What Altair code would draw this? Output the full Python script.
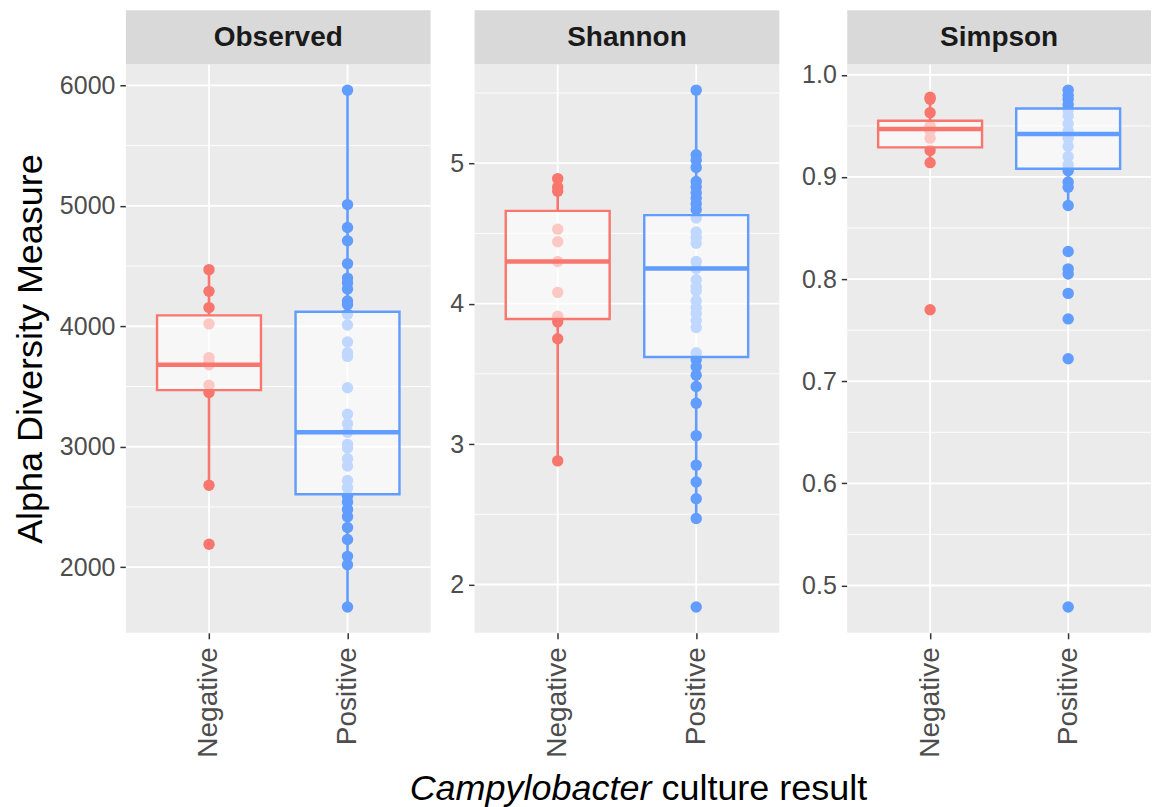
import altair as alt
import pandas as pd

groups = ["Negative", "Positive"]
colors = ["#F8766D", "#619CFF"]

# ---- Observed ----
obs_neg = [4470, 4290, 4155, 4020, 3740, 3700, 3680, 3510, 3450, 2680, 2190]
obs_pos = [5960, 5010, 4820, 4710, 4520, 4400, 4360, 4310, 4210, 4180, 4100, 4010,
           3870, 3780, 3750, 3490, 3270, 3190, 3120, 3020, 2990, 2900, 2840, 2720,
           2660, 2590, 2540, 2480, 2420, 2330, 2230, 2090, 2020, 1670]
obs_lo = [2680, 1670]
obs_q1 = [3470, 2605]
obs_med = [3680, 3120]
obs_q3 = [4090, 4120]
obs_hi = [4470, 5960]
obs_ticks = [2000, 3000, 4000, 5000, 6000]
obs_minor = [2500, 3500, 4500, 5500]

# ---- Shannon ----
sha_neg = [4.89, 4.83, 4.80, 4.53, 4.44, 4.30, 4.08, 3.91, 3.87, 3.75, 2.88]
sha_pos = [5.52, 5.06, 5.02, 4.97, 4.87, 4.83, 4.79, 4.75, 4.71, 4.67, 4.61, 4.51,
           4.47, 4.43, 4.30, 4.25, 4.17, 4.12, 4.09, 4.02, 3.97, 3.93, 3.88, 3.83,
           3.65, 3.60, 3.55, 3.49, 3.41, 3.29, 3.06, 2.85, 2.73, 2.61, 2.47, 1.84]
sha_lo = [2.88, 2.47]
sha_q1 = [3.89, 3.62]
sha_med = [4.30, 4.25]
sha_q3 = [4.66, 4.63]
sha_hi = [4.89, 5.52]
sha_ticks = [2, 3, 4, 5]
sha_minor = [2.5, 3.5, 4.5, 5.5]

# ---- Simpson ----
sim_neg = [0.978, 0.976, 0.963, 0.950, 0.945, 0.938, 0.926, 0.914, 0.770]
sim_pos = [0.985, 0.980, 0.976, 0.971, 0.966, 0.960, 0.952, 0.945, 0.938, 0.930,
           0.920, 0.912, 0.906, 0.895, 0.890, 0.872, 0.827, 0.810, 0.805, 0.786,
           0.761, 0.722, 0.479]
sim_lo = [0.914, 0.872]
sim_q1 = [0.929, 0.908]
sim_med = [0.947, 0.942]
sim_q3 = [0.955, 0.967]
sim_hi = [0.978, 0.985]
sim_ticks = [0.5, 0.6, 0.7, 0.8, 0.9, 1.0]
sim_minor = [0.55, 0.65, 0.75, 0.85, 0.95]

FONT = "Liberation Sans"
H = 569
STRIP = 54
BOXW = 104
PANEL_BG = "#EBEBEB"


def expand(vals):
    lo, hi = min(vals), max(vals)
    d = (hi - lo) * 0.05
    return [lo - d, hi + d]


def panel(name, pw, vw, neg, pos, lo, q1, med, q3, hi, ticks, minor, fmt,
          ytitle=None, xtitle=False):
    pts = pd.DataFrame({"group": ["Negative"] * len(neg) + ["Positive"] * len(pos),
                        "value": neg + pos})
    box = pd.DataFrame({"group": groups, "lo": lo, "q1": q1, "med": med,
                        "q3": q3, "hi": hi})
    yscale = alt.Scale(domain=expand(neg + pos), nice=False, zero=False)
    yaxis = alt.Axis(values=ticks, format=fmt, title=ytitle, grid=False)
    xscale = alt.Scale(type="point", padding=0.6, domain=groups, range=[0, pw])
    xenc = alt.X("group:N", scale=xscale, axis=alt.Axis(title=None, grid=False))
    color = alt.Color("group:N", scale=alt.Scale(domain=groups, range=colors), legend=None)

    one = pd.DataFrame({"name": [name]})
    bg = alt.Chart(one).mark_rect(color=PANEL_BG).encode(
        x=alt.value(0), x2=alt.value(pw), y=alt.value(0), y2=alt.value(H))

    minor_layer = alt.Chart(pd.DataFrame({"v": minor})).mark_rule(
        color="white", strokeWidth=0.9
    ).encode(y=alt.Y("v:Q", scale=yscale, axis=yaxis), x=alt.value(0), x2=alt.value(pw))
    major_layer = alt.Chart(pd.DataFrame({"v": ticks})).mark_rule(
        color="white", strokeWidth=1.8
    ).encode(y=alt.Y("v:Q", scale=yscale, axis=yaxis), x=alt.value(0), x2=alt.value(pw))
    xgrid = alt.Chart(pd.DataFrame({"group": groups})).mark_rule(
        color="white", strokeWidth=1.8
    ).encode(x=xenc, y=alt.value(0), y2=alt.value(H))

    points = alt.Chart(pts).mark_circle(size=130, opacity=1).encode(
        x=xenc, y=alt.Y("value:Q", scale=yscale, axis=yaxis), color=color)

    whisk_lo = alt.Chart(box).mark_rule(strokeWidth=2.6).encode(
        x=xenc, y=alt.Y("lo:Q", scale=yscale, axis=yaxis), y2="q1:Q", color=color)
    whisk_hi = alt.Chart(box).mark_rule(strokeWidth=2.6).encode(
        x=xenc, y=alt.Y("q3:Q", scale=yscale, axis=yaxis), y2="hi:Q", color=color)
    boxes = alt.Chart(box).mark_bar(size=BOXW, fill="white", fillOpacity=0.6,
                                    strokeWidth=2.4).encode(
        x=xenc, y=alt.Y("q1:Q", scale=yscale, axis=yaxis), y2="q3:Q", stroke=color)
    medians = alt.Chart(box).mark_tick(size=BOXW, thickness=4.5, opacity=1).encode(
        x=xenc, y=alt.Y("med:Q", scale=yscale, axis=yaxis), color=color)

    strip_rect = alt.Chart(one).mark_rect(color="#D9D9D9").encode(
        x=alt.value(0), x2=alt.value(pw), y=alt.value(-STRIP), y2=alt.value(0))
    strip_text = alt.Chart(one).mark_text(
        font=FONT, fontSize=28, fontWeight="bold", color="#1A1A1A", baseline="middle"
    ).encode(x=alt.value(pw / 2), y=alt.value(-STRIP / 2 + 1), text="name:N")

    layers = [bg, minor_layer, major_layer, xgrid, points, whisk_lo, whisk_hi,
              boxes, medians, strip_rect, strip_text]

    if xtitle:
        t_df1 = pd.DataFrame({"t": ["Campylobacter"]})
        t_df2 = pd.DataFrame({"t": ["culture result"]})
        split = 177
        t1 = alt.Chart(t_df1).mark_text(
            font=FONT, fontSize=36, fontStyle="italic", align="right",
            baseline="alphabetic", color="black"
        ).encode(x=alt.value(split), y=alt.value(736), text="t:N")
        t2 = alt.Chart(t_df2).mark_text(
            font=FONT, fontSize=36, align="left", baseline="alphabetic", color="black"
        ).encode(x=alt.value(split + 10), y=alt.value(736), text="t:N")
        layers += [t1, t2]

    return alt.layer(*layers).properties(width=vw, height=H)


# panel 2's view is wider than its drawn panel to leave the wider gap before panel 3
p1 = panel("Observed", 305, 305, obs_neg, obs_pos, obs_lo, obs_q1, obs_med, obs_q3, obs_hi,
           obs_ticks, obs_minor, "d", ytitle="Alpha Diversity Measure")
p2 = panel("Shannon", 305, 329, sha_neg, sha_pos, sha_lo, sha_q1, sha_med, sha_q3, sha_hi,
           sha_ticks, sha_minor, "d", xtitle=True)
p3 = panel("Simpson", 304, 304, sim_neg, sim_pos, sim_lo, sim_q1, sim_med, sim_q3, sim_hi,
           sim_ticks, sim_minor, ".1f")

chart = alt.hconcat(p1, p2, p3, spacing=44, bounds="flush").properties(
    padding={"left": 12, "top": 10, "right": 3, "bottom": 0},
    background="white"
).configure_view(
    stroke=None
).configure_axis(
    labelFont=FONT, titleFont=FONT, labelColor="#4D4D4D", tickColor="#333333",
    domain=False, tickSize=6, tickWidth=1.5
).configure_axisY(
    labelFontSize=25, labelPadding=5, titleFontSize=36, titleFontWeight="normal",
    titleColor="black", titlePadding=10
).configure_axisX(
    labelFontSize=28, labelAngle=270, labelAlign="right", labelBaseline="middle",
    labelPadding=8
)

chart.save("out.html", embed_options={"renderer": "svg", "actions": False})
